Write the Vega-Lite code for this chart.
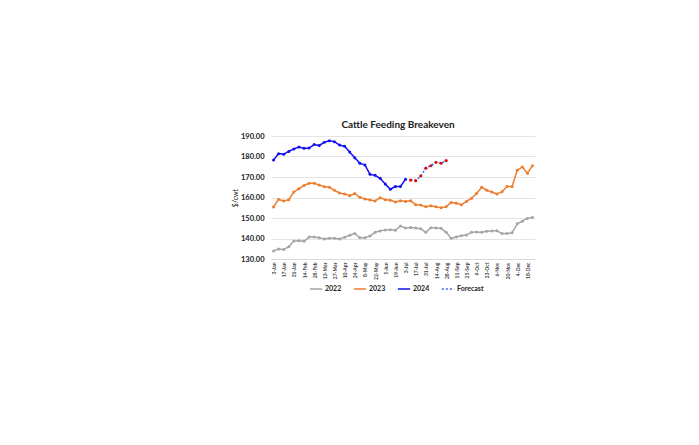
{
  "$schema": "https://vega.github.io/schema/vega-lite/v6.json",
  "width": 264,
  "height": 123,
  "autosize": {"type": "none"},
  "padding": {"left": 271, "top": 136, "right": 164, "bottom": 186},
  "background": "white",
  "title": {"text": "Cattle Feeding Breakeven", "font": "Lato", "fontSize": 10, "fontWeight": "bold", "color": "#222222", "anchor": "middle", "dx": -5, "offset": 2},
  "config": {
    "view": {"stroke": null},
    "font": "Lato"
  },
  "data": {"values": [
    {"w":"3-Jan","s":"2022","v":133.9},{"w":"10-Jan","s":"2022","v":134.9},{"w":"17-Jan","s":"2022","v":134.6},{"w":"24-Jan","s":"2022","v":136.0},{"w":"31-Jan","s":"2022","v":138.8},{"w":"7-Feb","s":"2022","v":138.9},{"w":"14-Feb","s":"2022","v":138.6},{"w":"21-Feb","s":"2022","v":140.7},{"w":"28-Feb","s":"2022","v":140.7},{"w":"6-Mar","s":"2022","v":140.4},{"w":"13-Mar","s":"2022","v":139.8},{"w":"20-Mar","s":"2022","v":140.1},{"w":"27-Mar","s":"2022","v":140.1},{"w":"3-Apr","s":"2022","v":139.8},{"w":"10-Apr","s":"2022","v":140.6},{"w":"17-Apr","s":"2022","v":141.6},{"w":"24-Apr","s":"2022","v":142.4},{"w":"1-May","s":"2022","v":140.4},{"w":"8-May","s":"2022","v":140.4},{"w":"15-May","s":"2022","v":141.2},{"w":"22-May","s":"2022","v":143.0},{"w":"29-May","s":"2022","v":143.7},{"w":"5-Jun","s":"2022","v":144.2},{"w":"12-Jun","s":"2022","v":144.3},{"w":"19-Jun","s":"2022","v":144.0},{"w":"26-Jun","s":"2022","v":146.1},{"w":"3-Jul","s":"2022","v":145.1},{"w":"10-Jul","s":"2022","v":145.4},{"w":"17-Jul","s":"2022","v":145.1},{"w":"24-Jul","s":"2022","v":144.8},{"w":"31-Jul","s":"2022","v":143.0},{"w":"7-Aug","s":"2022","v":145.3},{"w":"14-Aug","s":"2022","v":145.1},{"w":"21-Aug","s":"2022","v":145.0},{"w":"28-Aug","s":"2022","v":143.0},{"w":"4-Sep","s":"2022","v":140.1},{"w":"11-Sep","s":"2022","v":140.7},{"w":"18-Sep","s":"2022","v":141.4},{"w":"25-Sep","s":"2022","v":141.7},{"w":"2-Oct","s":"2022","v":143.0},{"w":"9-Oct","s":"2022","v":143.2},{"w":"16-Oct","s":"2022","v":143.0},{"w":"23-Oct","s":"2022","v":143.5},{"w":"30-Oct","s":"2022","v":143.7},{"w":"6-Nov","s":"2022","v":143.8},{"w":"13-Nov","s":"2022","v":142.4},{"w":"20-Nov","s":"2022","v":142.4},{"w":"27-Nov","s":"2022","v":142.8},{"w":"4-Dec","s":"2022","v":147.2},{"w":"11-Dec","s":"2022","v":148.4},{"w":"18-Dec","s":"2022","v":149.8},{"w":"25-Dec","s":"2022","v":150.3},
    {"w":"3-Jan","s":"2023","v":155.4},{"w":"10-Jan","s":"2023","v":159.1},{"w":"17-Jan","s":"2023","v":158.3},{"w":"24-Jan","s":"2023","v":158.9},{"w":"31-Jan","s":"2023","v":162.7},{"w":"7-Feb","s":"2023","v":164.3},{"w":"14-Feb","s":"2023","v":165.9},{"w":"21-Feb","s":"2023","v":166.9},{"w":"28-Feb","s":"2023","v":166.9},{"w":"6-Mar","s":"2023","v":166.1},{"w":"13-Mar","s":"2023","v":165.3},{"w":"20-Mar","s":"2023","v":165.0},{"w":"27-Mar","s":"2023","v":163.5},{"w":"3-Apr","s":"2023","v":162.2},{"w":"10-Apr","s":"2023","v":161.7},{"w":"17-Apr","s":"2023","v":160.9},{"w":"24-Apr","s":"2023","v":161.9},{"w":"1-May","s":"2023","v":160.1},{"w":"8-May","s":"2023","v":159.3},{"w":"15-May","s":"2023","v":158.8},{"w":"22-May","s":"2023","v":158.3},{"w":"29-May","s":"2023","v":159.9},{"w":"5-Jun","s":"2023","v":158.9},{"w":"12-Jun","s":"2023","v":158.7},{"w":"19-Jun","s":"2023","v":157.8},{"w":"26-Jun","s":"2023","v":158.4},{"w":"3-Jul","s":"2023","v":158.1},{"w":"10-Jul","s":"2023","v":158.4},{"w":"17-Jul","s":"2023","v":156.5},{"w":"24-Jul","s":"2023","v":156.3},{"w":"31-Jul","s":"2023","v":155.5},{"w":"7-Aug","s":"2023","v":156.0},{"w":"14-Aug","s":"2023","v":155.5},{"w":"21-Aug","s":"2023","v":155.0},{"w":"28-Aug","s":"2023","v":155.5},{"w":"4-Sep","s":"2023","v":157.6},{"w":"11-Sep","s":"2023","v":157.2},{"w":"18-Sep","s":"2023","v":156.5},{"w":"25-Sep","s":"2023","v":158.1},{"w":"2-Oct","s":"2023","v":159.6},{"w":"9-Oct","s":"2023","v":162.0},{"w":"16-Oct","s":"2023","v":165.0},{"w":"23-Oct","s":"2023","v":163.5},{"w":"30-Oct","s":"2023","v":162.7},{"w":"6-Nov","s":"2023","v":161.7},{"w":"13-Nov","s":"2023","v":162.8},{"w":"20-Nov","s":"2023","v":165.4},{"w":"27-Nov","s":"2023","v":165.4},{"w":"4-Dec","s":"2023","v":173.3},{"w":"11-Dec","s":"2023","v":174.9},{"w":"18-Dec","s":"2023","v":171.8},{"w":"25-Dec","s":"2023","v":175.5},
    {"w":"3-Jan","s":"2024","v":178.3},{"w":"10-Jan","s":"2024","v":181.4},{"w":"17-Jan","s":"2024","v":181.1},{"w":"24-Jan","s":"2024","v":182.5},{"w":"31-Jan","s":"2024","v":183.7},{"w":"7-Feb","s":"2024","v":184.6},{"w":"14-Feb","s":"2024","v":184.0},{"w":"21-Feb","s":"2024","v":184.1},{"w":"28-Feb","s":"2024","v":185.8},{"w":"6-Mar","s":"2024","v":185.4},{"w":"13-Mar","s":"2024","v":186.9},{"w":"20-Mar","s":"2024","v":187.7},{"w":"27-Mar","s":"2024","v":187.2},{"w":"3-Apr","s":"2024","v":185.6},{"w":"10-Apr","s":"2024","v":185.0},{"w":"17-Apr","s":"2024","v":182.2},{"w":"24-Apr","s":"2024","v":179.4},{"w":"1-May","s":"2024","v":176.7},{"w":"8-May","s":"2024","v":175.9},{"w":"15-May","s":"2024","v":171.3},{"w":"22-May","s":"2024","v":170.8},{"w":"29-May","s":"2024","v":169.4},{"w":"5-Jun","s":"2024","v":166.6},{"w":"12-Jun","s":"2024","v":164.0},{"w":"19-Jun","s":"2024","v":165.4},{"w":"26-Jun","s":"2024","v":165.4},{"w":"3-Jul","s":"2024","v":168.9},
    {"w":"10-Jul","s":"Forecast","v":168.5},{"w":"17-Jul","s":"Forecast","v":168.2},{"w":"24-Jul","s":"Forecast","v":170.5},{"w":"31-Jul","s":"Forecast","v":174.3},{"w":"7-Aug","s":"Forecast","v":175.5},{"w":"14-Aug","s":"Forecast","v":177.2},{"w":"21-Aug","s":"Forecast","v":176.7},{"w":"28-Aug","s":"Forecast","v":178.0}
  ]},
  "encoding": {
    "x": {
      "field": "w", "type": "ordinal", "sort": null,
      "scale": {"type": "point", "padding": 0.5},
      "axis": {
        "title": null,
        "values": ["3-Jan","17-Jan","31-Jan","14-Feb","28-Feb","13-Mar","27-Mar","10-Apr","24-Apr","8-May","22-May","5-Jun","19-Jun","3-Jul","17-Jul","31-Jul","14-Aug","28-Aug","11-Sep","25-Sep","9-Oct","23-Oct","6-Nov","20-Nov","4-Dec","18-Dec"],
        "labelAngle": -90, "labelFontSize": 5, "labelFont": "Lato", "labelFontWeight": "bold", "labelColor": "#444444",
        "labelPadding": 3, "ticks": false, "domainColor": "#D9D9D9", "grid": false
      }
    },
    "y": {
      "field": "v", "type": "quantitative",
      "scale": {"domain": [130, 190], "nice": false, "zero": false},
      "axis": {
        "title": "$/cwt", "titleFontSize": 7, "titleFont": "Lato", "titleFontWeight": "normal", "titleColor": "#222222", "titlePadding": 2,
        "values": [130, 140, 150, 160, 170, 180, 190], "format": ".2f",
        "labelFontSize": 7.5, "labelFont": "Lato", "labelFontWeight": "bold", "labelColor": "#222222", "labelPadding": 7,
        "ticks": false, "domain": false, "gridColor": "#DDDDDD", "gridWidth": 0.8
      }
    }
  },
  "layer": [
    {
      "mark": {"type": "line", "strokeWidth": 1.5},
      "encoding": {
        "color": {
          "field": "s", "type": "nominal",
          "scale": {"domain": ["2022", "2023", "2024", "Forecast"], "range": ["#A5A5A5", "#ED7D31", "#1010F0", "#4060F0"]},
          "legend": {
            "title": null, "orient": "none", "direction": "horizontal", "legendX": 38, "legendY": 146,
            "symbolType": "stroke", "symbolSize": 150, "symbolStrokeWidth": 1.5,
            "labelFontSize": 7, "labelFont": "Lato", "labelFontWeight": "bold", "labelColor": "#222222", "columnPadding": 8, "labelOffset": 2
          }
        },
        "strokeDash": {
          "field": "s", "type": "nominal",
          "scale": {"domain": ["2022", "2023", "2024", "Forecast"], "range": [[1, 0], [1, 0], [1, 0], [2, 2]]},
          "legend": null
        }
      }
    },
    {
      "transform": [{"filter": "datum.s !== 'Forecast'"}],
      "mark": {"type": "point", "filled": true, "size": 9, "opacity": 1, "shape": "circle"},
      "encoding": {
        "color": {"field": "s", "type": "nominal"}
      }
    },
    {
      "transform": [{"filter": "datum.s === 'Forecast'"}],
      "mark": {"type": "point", "filled": true, "size": 10, "opacity": 1, "shape": "circle", "color": "#D01010"},
      "encoding": {}
    }
  ]
}
